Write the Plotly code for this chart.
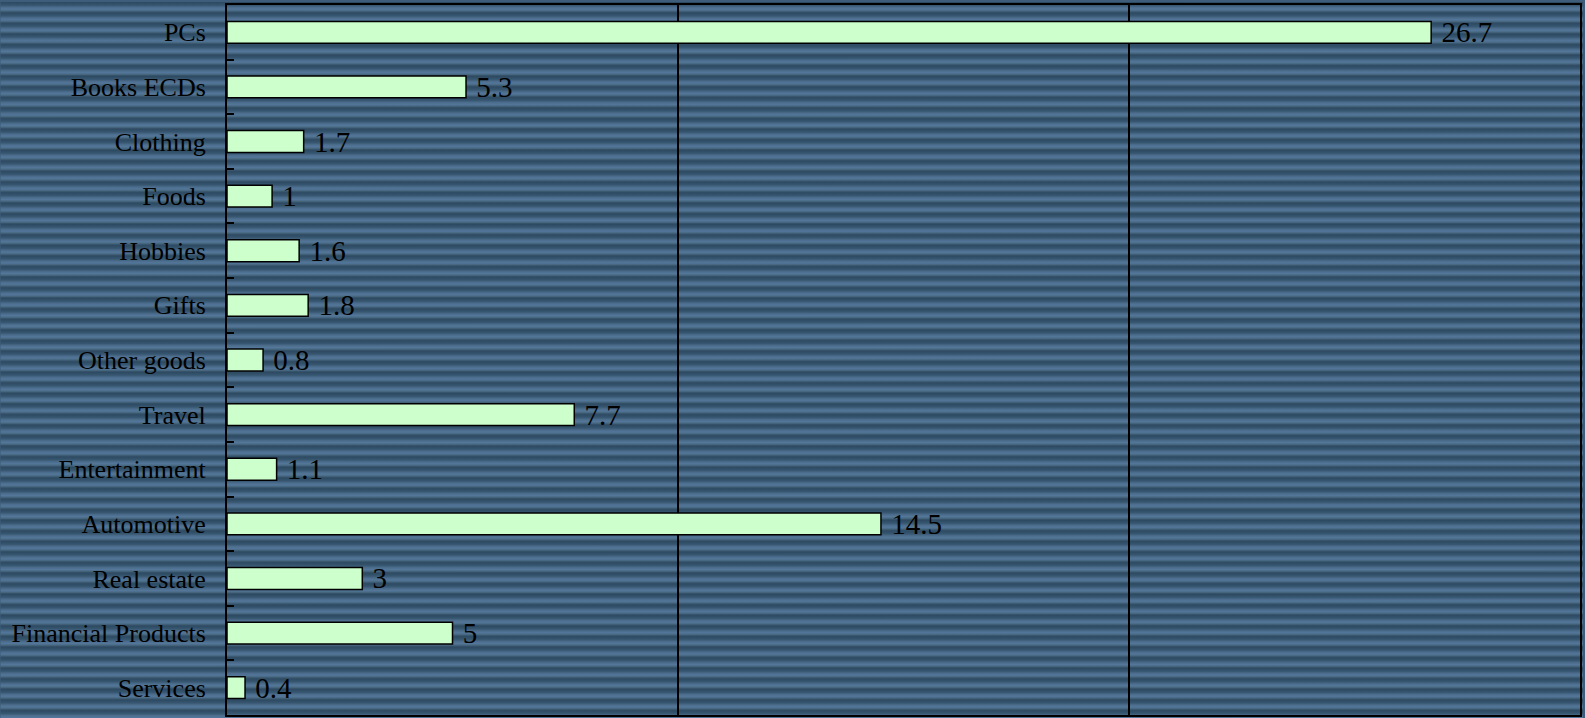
import base64
import plotly.graph_objects as go

# Online purchase share by category (values shown next to each bar)
categories = [
    "PCs", "Books ECDs", "Clothing", "Foods", "Hobbies", "Gifts",
    "Other goods", "Travel", "Entertainment", "Automotive",
    "Real estate", "Financial Products", "Services",
]
values = [26.7, 5.3, 1.7, 1, 1.6, 1.8, 0.8, 7.7, 1.1, 14.5, 3, 5, 0.4]

W, H = 1585, 718
ML, MR, MT, MB = 227, 3, 3, 3
PW, PH = W - ML - MR, H - MT - MB

# Horizontally striped backdrop, built as an inline SVG pattern
period = 10.6
svg = f"""<svg xmlns="http://www.w3.org/2000/svg" width="{W}" height="{H}" viewBox="0 0 {W} {H}" preserveAspectRatio="none">
<defs>
<linearGradient id="g" x1="0" y1="0" x2="0" y2="1">
<stop offset="0" stop-color="#2d4961"/>
<stop offset="0.30" stop-color="#36556f"/>
<stop offset="0.50" stop-color="#4b6c8b"/>
<stop offset="0.70" stop-color="#54779b"/>
<stop offset="0.85" stop-color="#47687f"/>
<stop offset="1" stop-color="#2d4961"/>
</linearGradient>
<pattern id="p" x="0" y="0" width="{W}" height="{period}" patternUnits="userSpaceOnUse">
<rect x="0" y="0" width="{W}" height="{period}" fill="url(#g)"/>
</pattern>
</defs>
<rect x="0" y="0" width="{W}" height="{H}" fill="url(#p)"/>
</svg>"""
bg_src = "data:image/svg+xml;base64," + base64.b64encode(svg.encode()).decode()

fig = go.Figure(
    go.Bar(
        x=values,
        y=categories,
        orientation="h",
        width=0.4,
        marker=dict(color="#ccffcc", line=dict(color="black", width=1.5)),
        texttemplate="\u00a0%{x}",
        textposition="outside",
        constraintext="none",
        textfont=dict(family="Liberation Serif", size=29, color="black"),
        cliponaxis=False,
    )
)

fig.update_layout(
    width=W,
    height=H,
    margin=dict(l=ML, r=MR, t=MT, b=MB),
    paper_bgcolor="#3e5d7a",
    plot_bgcolor="rgba(0,0,0,0)",
    showlegend=False,
    images=[
        dict(
            source=bg_src,
            xref="paper", yref="paper",
            x=-ML / PW, y=1 + MT / PH,
            sizex=W / PW, sizey=H / PH,
            xanchor="left", yanchor="top",
            sizing="stretch",
            layer="below",
        )
    ],
)

fig.update_xaxes(
    range=[0, 30],
    dtick=10,
    showticklabels=False,
    showgrid=True,
    gridcolor="black",
    gridwidth=1.5,
    zeroline=False,
    showline=True,
    linecolor="black",
    linewidth=2,
    mirror=True,
    ticks="",
)

fig.update_yaxes(
    categoryorder="array",
    categoryarray=categories,
    range=[len(categories) - 0.5, -0.5],
    showgrid=False,
    zeroline=False,
    showline=True,
    linecolor="black",
    linewidth=2,
    mirror=True,
    ticks="inside",
    tickson="boundaries",
    ticklen=7,
    tickwidth=1.5,
    tickcolor="black",
    ticklabelstandoff=14,
    tickfont=dict(family="Liberation Serif", size=26, color="black"),
)

fig.write_html("out.html")
